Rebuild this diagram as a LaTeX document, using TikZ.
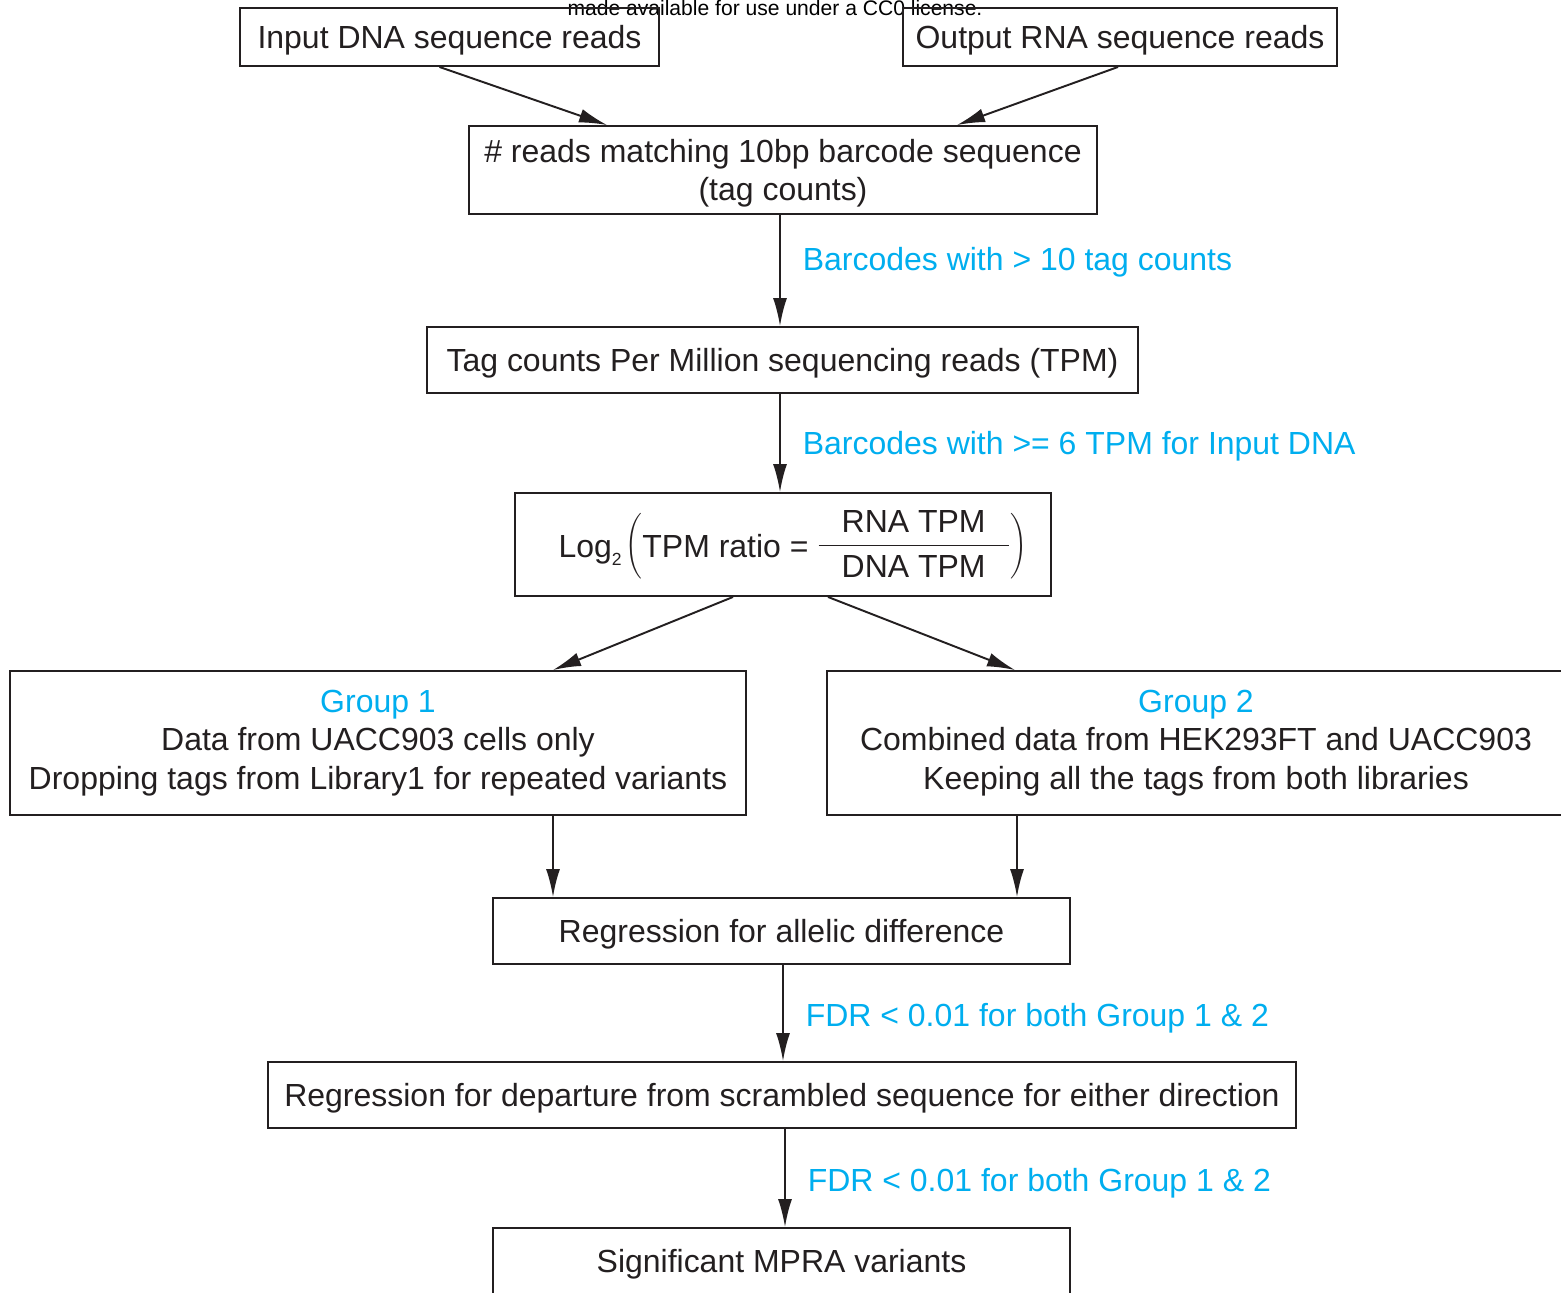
\documentclass[tikz,border=0pt]{standalone}
\usepackage{amsmath}
\usepackage{graphicx}
\usepackage{fontspec}
\setmainfont{Liberation Sans}
\usetikzlibrary{calc,arrows.meta}
\definecolor{inkgray}{HTML}{231F20}
\definecolor{filtcyan}{HTML}{00AEEF}
\def\pxu{0.02cm}
\tikzset{
  box/.style={draw=inkgray, text=inkgray, line width=1.1pt, inner sep=0pt,
    minimum height=66*\pxu, align=center,
    font=\fontsize{18.2}{21.8}\selectfont},
  lowtxt/.style={text depth=0pt},
  arr/.style={draw=inkgray, line width=1.1pt, -{Latex[length=0.56cm,width=0.28cm]}},
  filt/.style={text=filtcyan, anchor=west, xshift=16*\pxu, yshift=-3*\pxu,
    font=\fontsize{18.2}{21.8}\selectfont}
}

\begin{document}
\begin{tikzpicture}[x=0.02cm,y=-0.02cm]
    \path[use as bounding box, clip] (0,0) rectangle (1561,1292);
    \fill[white] (0,0) rectangle (1561,1292);

    % watermark
    \node[anchor=base, inner sep=0pt, text=black, font=\fontsize{12}{14}\selectfont] (note) at (775,15) {made available for use under a CC0 license.};

    \node[box, lowtxt, minimum width=419*\pxu, minimum height=58*\pxu] (indna) at (449.5,37) {Input DNA sequence reads};
    \node[box, lowtxt, minimum width=434*\pxu, minimum height=58*\pxu] (outrna) at (1120,37) {Output RNA sequence reads};
    \node[box, lowtxt, minimum width=628*\pxu, minimum height=88*\pxu] (tags) at (783,170) {\# reads matching 10bp barcode sequence\\(tag counts)};
    \node[box, lowtxt, minimum width=711*\pxu] (tpm) at (782.5,360) {Tag counts Per Million sequencing reads (TPM)};
    % ratio formula: fraction and brackets lifted a little over the text line
    \node[box, minimum width=536*\pxu, minimum height=103*\pxu] (ratio) at (783,544.5)
      {\hspace{0.4cm}Log\raisebox{-0.45ex}{\fontsize{10}{10}\selectfont 2}\hspace{0.08cm}\raisebox{0.1cm}{\scalebox{0.75}[0.9]{$\bigg($}}TPM ratio =\hspace{0.16cm}\raisebox{0.1cm}{$\dfrac{\text{\hspace{0.46cm}RNA TPM\hspace{0.46cm}}}{\text{\rule{0pt}{16pt}DNA TPM}}$}\raisebox{0.1cm}{\scalebox{0.75}[0.9]{$\bigg)$}}};
    \node[box, minimum width=736*\pxu, minimum height=144*\pxu] (grpone) at (378,743)
      {\textcolor{filtcyan}{Group 1}\\Data from UACC903 cells only\\Dropping tags from Library1 for repeated variants};
    \node[box, minimum width=738*\pxu, minimum height=144*\pxu] (grptwo) at (1196,743)
      {\textcolor{filtcyan}{Group 2}\\Combined data from HEK293FT and UACC903\\Keeping all the tags from both libraries};
    \node[box, lowtxt, minimum width=577*\pxu] (regall) at (781.5,931) {Regression for allelic difference};
    \node[box, lowtxt, minimum width=1028*\pxu] (regscr) at (782,1095) {Regression for departure from scrambled sequence for either direction};
    \node[box, lowtxt, minimum width=577*\pxu] (signif) at (781.5,1261) {Significant MPRA variants};

    \draw[arr] ($(indna.south)+(-10,0)$) -- ($(tags.north)+(-176,0)$);
    \draw[arr] ($(outrna.south)+(-2,0)$) -- ($(tags.north)+(174,0)$);
    \draw[arr] ($(tags.south)+(-3,0)$) -- ($(tpm.north)+(-2.5,0)$)
      node[filt, pos=0.4] {Barcodes with > 10 tag counts};
    \draw[arr] ($(tpm.south)+(-2.5,0)$) -- ($(ratio.north)+(-3,0)$)
      node[filt, pos=0.5] {Barcodes with >= 6 TPM for Input DNA};
    \draw[arr] ($(ratio.south)+(-50,0)$) -- ($(grpone.north)+(175,0)$);
    \draw[arr] ($(ratio.south)+(45,0)$) -- ($(grptwo.north)+(-181,0)$);
    \draw[arr] ($(grpone.south)+(175,0)$) -- ($(regall.north)+(-228.5,0)$);
    \draw[arr] ($(grptwo.south)+(-179,0)$) -- ($(regall.north)+(235.5,0)$);
    \draw[arr] ($(regall.south)+(1.5,0)$) -- ($(regscr.north)+(1,0)$)
      node[filt, pos=0.52] {FDR < 0.01 for both Group 1 \& 2};
    \draw[arr] ($(regscr.south)+(3,0)$) -- ($(signif.north)+(3.5,0)$)
      node[filt, pos=0.52] {FDR < 0.01 for both Group 1 \& 2};
\end{tikzpicture}
\end{document}
